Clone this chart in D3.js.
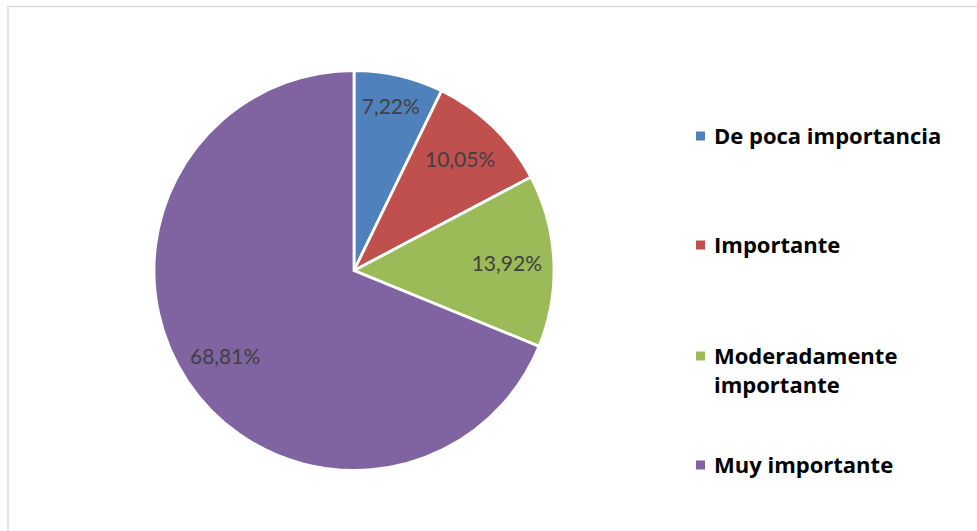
<!DOCTYPE html>
<html>
<head>
<meta charset="utf-8">
<script src="https://cdn.jsdelivr.net/npm/d3@7"></script>
<style>
  body { margin: 0; background: #fff; }
  svg { display: block; }
</style>
</head>
<body>
<svg></svg>
<script>
let categories = ["De poca importancia", "Importante", "Moderadamente importante", "Muy importante"];
let values = [7.22, 10.05, 13.92, 68.81];
let labels = ["7,22%", "10,05%", "13,92%", "68,81%"];
let colors = ["#4F81BD", "#C0504D", "#9BBB59", "#8064A2"];

let width = 977;
let height = 531;
let cx = 354;
let cy = 270.5;
let radius = 200;
let svg = d3.select("svg").attr("width", width).attr("height", height);

// chart area border
svg
  .append("path")
  .attr("d", `M8,${height + 2} L8,6.5 L${width + 2},6.5`)
  .attr("fill", "none")
  .attr("stroke", "#d9d9d9")
  .attr("stroke-width", 1.5);

let pie = d3.pie().sort(null).value((d) => d);
let arcs = pie(values);
let arc = d3.arc().innerRadius(0).outerRadius(radius);

let g = svg.append("g").attr("transform", `translate(${cx},${cy})`);

g.selectAll("path.slice")
  .data(arcs)
  .enter()
  .append("path")
  .attr("class", "slice")
  .attr("d", arc)
  .attr("fill", (d, i) => colors[i])
  .attr("stroke", "#fff")
  .attr("stroke-width", 2.8)
  .attr("stroke-linejoin", "miter");

// small slice label sits a bit further out
let labelRadius = (d) => (d.endAngle - d.startAngle < 0.5 ? 168 : 154);

g.selectAll("text.lbl")
  .data(arcs)
  .enter()
  .append("text")
  .attr("class", "lbl")
  .attr("transform", (d) => {
    let r = labelRadius(d);
    let a = d3.arc().innerRadius(r).outerRadius(r);
    let c = a.centroid(d);
    return `translate(${c[0] - 1},${c[1]})`;
  })
  .attr("text-anchor", "middle")
  .attr("dy", "0.36em")
  .attr("font-family", "Lato, 'Open Sans', sans-serif")
  .attr("font-size", 21)
  .attr("fill", "#404040")
  .text((d, i) => labels[i]);

// legend
let legendLines = [["De poca importancia"], ["Importante"], ["Moderadamente", "importante"], ["Muy importante"]];
let legendY = [136, 245, 356, 465];

let legend = svg
  .selectAll("g.leg")
  .data(categories)
  .enter()
  .append("g")
  .attr("class", "leg")
  .attr("transform", (d, i) => `translate(696,${legendY[i]})`);

legend
  .append("rect")
  .attr("x", 0)
  .attr("y", -4.5)
  .attr("width", 9)
  .attr("height", 9)
  .attr("fill", (d, i) => colors[i]);

legend
  .append("text")
  .attr("x", 18)
  .attr("font-family", "'Open Sans', Lato, sans-serif")
  .attr("font-weight", "bold")
  .attr("font-size", 22)
  .attr("fill", "#000")
  .each(function (d, i) {
    d3.select(this)
      .selectAll("tspan")
      .data(legendLines[i])
      .enter()
      .append("tspan")
      .attr("x", 18)
      .attr("y", (t, j) => j * 29)
      .attr("dy", "0.36em")
      .text((t) => t);
  });
</script>
</body>
</html>
